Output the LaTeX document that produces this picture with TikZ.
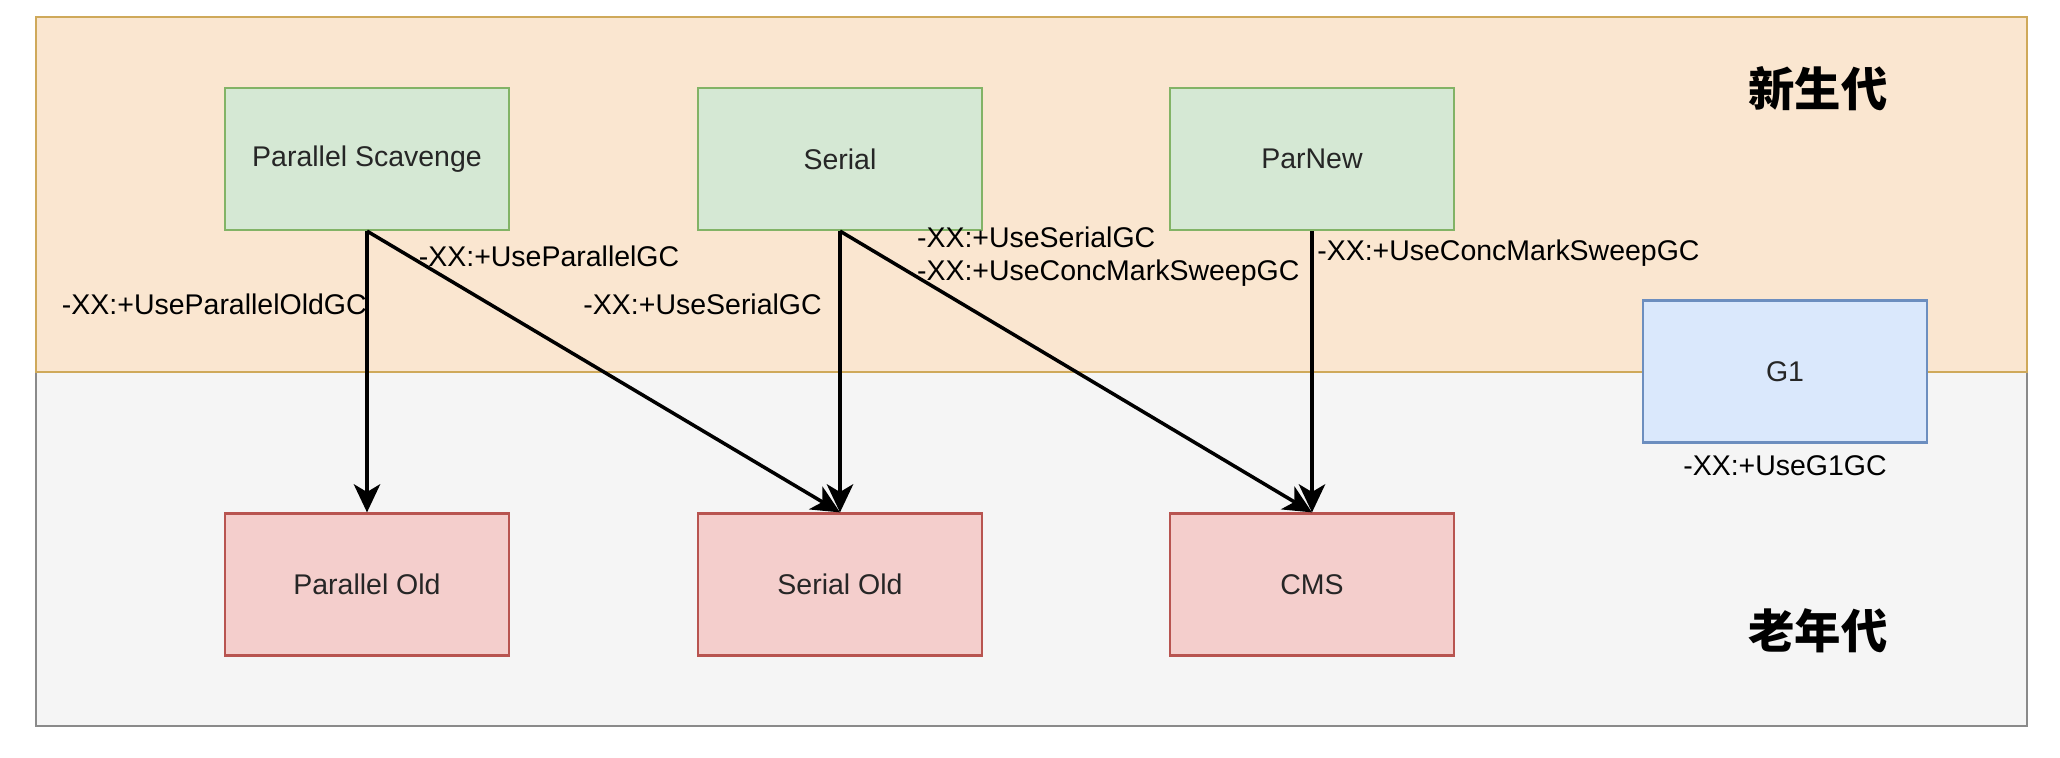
\documentclass[tikz,border=0pt]{standalone}
\usepackage{fontspec}
\setmainfont{Liberation Sans}
\newfontfamily\cjk{Noto Sans CJK SC}
\usetikzlibrary{arrows.meta,positioning}
\definecolor{youngfill}{HTML}{FAE6D0}
\definecolor{youngdraw}{HTML}{CFA95A}
\definecolor{oldfill}{HTML}{F5F5F5}
\definecolor{olddraw}{HTML}{8A8A8A}
\definecolor{greenfill}{HTML}{D5E8D4}
\definecolor{greendraw}{HTML}{82B366}
\definecolor{redfill}{HTML}{F4CECC}
\definecolor{reddraw}{HTML}{B85450}
\definecolor{bluefill}{HTML}{DAE8FC}
\definecolor{bluedraw}{HTML}{6C8EBF}

\begin{document}
\begin{tikzpicture}[x=0.01cm,y=-0.01cm,
  box/.style={draw,line width=0.6pt,minimum width=2.84cm,minimum height=1.42cm,
    font=\fontsize{8.1}{9.7}\selectfont,text=black!85},
  newgc/.style={box,fill=greenfill,draw=greendraw},
  oldgc/.style={box,fill=redfill,draw=reddraw},
  g1gc/.style={box,fill=bluefill,draw=bluedraw},
  opt/.style={font=\fontsize{8.1}{9.2}\selectfont,inner sep=1pt,align=left},
  gen/.style={font=\cjk\bfseries\fontsize{13.2}{15}\selectfont}]
  \useasboundingbox (0,0) rectangle (2060,758);
  \draw[fill=oldfill,draw=olddraw,line width=0.8pt] (36,372) rectangle (2027,726);
  \draw[fill=youngfill,draw=youngdraw,line width=0.8pt] (36,17) rectangle (2027,372);

  \node[gen] (young) at (1818,89) {新生代};
  \node[gen] (old) at (1818,631) {老年代};

  \node[newgc] (ps) at (367,159) {Parallel Scavenge};
  \node[newgc] (sr) at (840,159) {Serial};
  \node[newgc] (pn) at (1312,159) {ParNew};
  \node[g1gc] (g1) at (1785,371.5) {G1};
  \node[opt,below=0.08cm of g1] (g1opt) {-XX:+UseG1GC};
  \node[oldgc] (po) at (367,584.5) {Parallel Old};
  \node[oldgc] (so) at (840,584.5) {Serial Old};
  \node[oldgc] (cms) at (1312,584.5) {CMS};

  \path[-{Stealth[length=8pt,width=7.5pt,inset=2.2pt]},line width=1pt]
    (ps.south) edge node [opt,pos=0.26,anchor=east,xshift=0.05cm] {-XX:+UseParallelOldGC} (po.north)
    (ps.south) edge node [opt,pos=0.09,anchor=west,xshift=0.04cm] {-XX:+UseParallelGC} (so.north)
    (sr.south) edge node [opt,pos=0.26,anchor=east,xshift=-0.13cm] {-XX:+UseSerialGC} (so.north)
    (sr.south) edge node [opt,pos=0.08,anchor=west,xshift=0.34cm,yshift=-0.03cm] {-XX:+UseSerialGC\\-XX:+UseConcMarkSweepGC} (cms.north)
    (pn.south) edge node [opt,pos=0.08,anchor=west] {-XX:+UseConcMarkSweepGC} (cms.north);
\end{tikzpicture}
\end{document}
